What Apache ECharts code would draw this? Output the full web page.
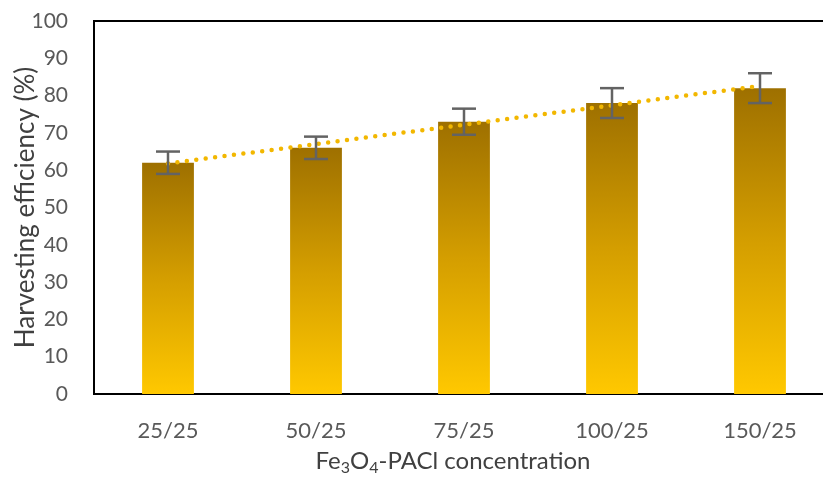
<!DOCTYPE html>
<html><head><meta charset="utf-8">
<script src="https://cdn.jsdelivr.net/npm/echarts@6/dist/echarts.min.js"></script>
<style>html,body{margin:0;padding:0;background:#fff}#c{width:823px;height:477px}</style>
</head><body><div id="c"></div>
<script>
const categories = ['25/25', '50/25', '75/25', '100/25', '150/25'];
const efficiency = [62, 66, 73, 78, 82];
const errors = [3, 3, 3.5, 4, 4];
const trend = [61.8, 67.0, 72.2, 77.4, 82.6];
const yTicks = [0, 10, 20, 30, 40, 50, 60, 70, 80, 90, 100];

const font = 'Lato, "Open Sans", sans-serif';
const chart = echarts.init(document.getElementById('c'));
chart.setOption({
  animation: false,
  grid: { left: 94, right: -11, top: 21, bottom: 83, show: true, borderColor: '#000', borderWidth: 2, backgroundColor: 'transparent', containLabel: false, outerBoundsMode: 'none' },
  xAxis: {
    type: 'category', data: categories,
    axisLine: { show: false }, axisTick: { show: false },
    axisLabel: { color: '#595959', fontSize: 22, fontFamily: font, margin: 26 },
    name: '{n|Fe}{s|3}{n|O}{s|4}{n|-PACl concentration}',
    nameLocation: 'middle', nameGap: 52, nameMoveOverlap: false,
    nameTextStyle: { padding: [0, 22, 0, 0], rich: { n: { fontSize: 24, color: '#404040', fontFamily: font }, s: { fontSize: 16, color: '#404040', fontFamily: font, padding: [14, 0, 0, 0] } } }
  },
  yAxis: {
    type: 'value', min: yTicks[0], max: yTicks[yTicks.length - 1], interval: 10,
    splitLine: { show: false }, axisLine: { show: false }, axisTick: { show: false },
    axisLabel: { color: '#595959', fontSize: 21, fontFamily: font, margin: 26 },
    name: 'Harvesting efficiency (%)', nameLocation: 'middle', nameGap: 55, nameMoveOverlap: false,
    nameTextStyle: { fontSize: 26, color: '#404040', fontFamily: font }
  },
  series: [
    {
      type: 'bar', data: efficiency, barWidth: '35%',
      itemStyle: { color: new echarts.graphic.LinearGradient(0, 0, 0, 1, [
        { offset: 0, color: '#9E7000' }, { offset: 0.5, color: '#D49E00' }, { offset: 1, color: '#FFC800' }
      ]) }
    },
    {
      type: 'line', data: trend, symbol: 'none', z: 5,
      lineStyle: { color: '#F2B700', width: 4.5, type: [0, 9.5], cap: 'round' }
    },
    {
      type: 'custom', z: 6,
      data: efficiency.map((v, i) => [i, v - errors[i], v + errors[i]]),
      renderItem: function (params, api) {
        const lo = api.coord([api.value(0), api.value(1)]);
        const hi = api.coord([api.value(0), api.value(2)]);
        const w = 12;
        const st = { stroke: '#636363', lineWidth: 2.5 };
        return { type: 'group', children: [
          { type: 'line', shape: { x1: hi[0], y1: hi[1], x2: lo[0], y2: lo[1] }, style: st },
          { type: 'line', shape: { x1: hi[0] - w, y1: hi[1], x2: hi[0] + w, y2: hi[1] }, style: st },
          { type: 'line', shape: { x1: lo[0] - w, y1: lo[1], x2: lo[0] + w, y2: lo[1] }, style: st }
        ] };
      }
    }
  ]
});
</script></body></html>
